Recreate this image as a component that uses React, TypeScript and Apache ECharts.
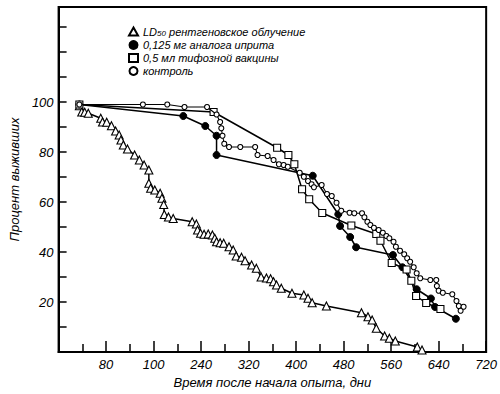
import React, { useEffect, useRef } from "react";
import * as echarts from "echarts";

// ---- data ----
const seriesNames = [
  "LD50 рентгеновское облучение",
  "0,125 мг аналога иприта",
  "0,5 мл тифозной вакцины",
  "контроль",
];

const xrayDays = [35, 39, 44, 50, 71, 74, 81, 89, 96, 102, 105, 109, 116, 128, 136, 144, 152, 152, 155, 162, 171, 174, 177, 178, 185, 193, 225, 232, 234, 239, 245, 252, 259, 263, 266, 272, 278, 287, 294, 299, 308, 314, 325, 333, 341, 350, 357, 362, 367, 375, 393, 413, 420, 427, 451, 510, 521, 528, 535, 549, 557, 567, 604, 612];
const xraySurv = [98.5, 96, 95.9, 95.5, 93.5, 92, 91.9, 90.5, 88.4, 86.8, 84.8, 82.8, 81.2, 78.8, 76.8, 74.8, 72.8, 67.5, 65.5, 64.8, 63.5, 61.5, 59, 55, 54, 53.4, 52.1, 51.2, 48.8, 47.5, 47.1, 47.2, 46.8, 45.5, 44.1, 43.7, 43.5, 42.1, 40.8, 38.4, 37.9, 36.5, 34.8, 33.5, 30, 29.6, 29.3, 28.1, 26.8, 25.5, 23.5, 22.8, 21.5, 19.7, 18.4, 15.7, 14.1, 12.8, 9.5, 6.4, 5.5, 4.4, 2.0, 0.8];

const mustardDays = [35, 210, 247, 266, 266, 428, 471, 474, 491, 501, 563, 579, 603, 627, 634, 669];
const mustardSurv = [99, 94.4, 90.4, 86.5, 78.8, 70.5, 55.1, 50.4, 46, 41.9, 38.8, 33.9, 25.1, 21.4, 18, 13.3];

const vaccineDays = [35, 261, 368, 387, 397, 410, 422, 444, 493, 535, 542, 561, 586, 594, 602, 619, 643];
const vaccineSurv = [99, 96, 81.7, 78.8, 75.1, 65.1, 61.1, 55.6, 50.6, 47.2, 44.5, 35.6, 33, 28.5, 22.4, 19.6, 17.2];

const controlDays = [35, 142, 183, 212, 250, 266, 272, 274, 276, 279, 287, 306, 331, 335, 352, 362, 371, 379, 386, 406, 413, 420, 426, 430, 443, 452, 460, 468, 476, 490, 498, 511, 515, 520, 525, 531, 539, 546, 552, 557, 564, 568, 575, 582, 587, 592, 598, 603, 609, 626, 636, 637, 640, 647, 663, 670, 674, 677, 682];
const controlSurv = [99, 99, 99, 98, 98, 95, 92, 89.5, 86.5, 83.3, 82, 82, 82, 78.8, 78.4, 76.8, 75.1, 74.8, 74.1, 71.7, 70.1, 68.4, 67.1, 65.9, 66.8, 63.2, 62.4, 59.7, 56.5, 55.7, 55.5, 55.5, 53.9, 52.1, 50.8, 49.7, 48.8, 47.7, 46.4, 45.5, 44.1, 42.1, 40.5, 39.1, 37.5, 36.1, 33.9, 31.5, 29.5, 28.8, 28.8, 26.4, 24.5, 23.7, 23.1, 20.4, 18.4, 16.5, 18.1];

// x tick labels as printed in the reference (160 is printed as "100")
const xTickValues = [80, 160, 240, 320, 400, 480, 560, 640, 720];
const xTickLabels = ["80", "100", "240", "320", "400", "480", "560", "640", "720"];
const yTickValues = [20, 40, 60, 80, 100];

const xAxisTitle = "Время после начала опыта, дни";
const yAxisTitle = "Процент выживших";

const FONT = "'Liberation Sans', 'DejaVu Sans', sans-serif";

function pairs(xs: number[], ys: number[]) {
  return xs.map((x, i) => [x, ys[i]]);
}

export default function App() {
  const ref = useRef<HTMLDivElement>(null);
  useEffect(() => {
    if (!ref.current) return;
    const chart = echarts.init(ref.current, undefined, { renderer: "svg" });
    const lineStyle = { color: "#000", width: 1.5 };
    const hollow = { color: "#fff", borderColor: "#000", borderWidth: 1.1 };
    const option: any = {
      animation: false,
      backgroundColor: "#fff",
      grid: {
        left: 43,
        right: 13,
        top: 7,
        bottom: 42,
        show: true,
        borderColor: "#000",
        borderWidth: 2,
        backgroundColor: "transparent",
      },
      legend: {
        orient: "vertical",
        left: 123,
        top: 21,
        itemGap: 2,
        itemWidth: 9,
        itemHeight: 8,
        data: [
          { name: seriesNames[0], icon: "triangle" },
          { name: seriesNames[1], icon: "circle" },
          { name: seriesNames[2], icon: "rect" },
          { name: seriesNames[3], icon: "circle" },
        ],
        textStyle: {
          fontFamily: FONT,
          fontStyle: "italic",
          fontSize: 11,
          color: "#000",
          rich: {
            i: { fontFamily: FONT, fontStyle: "italic", fontSize: 11, color: "#000" },
            s: { fontFamily: FONT, fontStyle: "italic", fontSize: 8, color: "#000", verticalAlign: "bottom", padding: [4, 0, 0, 0] },
          },
        },
        formatter: (name: string) =>
          name === seriesNames[0]
            ? "{i|LD}{s|50}{i| рентгеновское облучение}"
            : name,
      },
      xAxis: {
        type: "value",
        min: 0,
        max: 720,
        interval: 80,
        name: xAxisTitle,
        nameLocation: "middle",
        nameGap: 22,
        nameTextStyle: { fontFamily: FONT, fontStyle: "italic", fontSize: 13, color: "#000" },
        axisLine: { lineStyle: { color: "#000", width: 2 } },
        axisTick: { inside: true, length: 11, lineStyle: { color: "#000", width: 1.5 } },
        minorTick: { show: true, splitNumber: 2, length: 8, lineStyle: { color: "#000", width: 1.5 } },
        splitLine: { show: false },
        axisLabel: {
          margin: 6,
          fontFamily: FONT,
          fontStyle: "italic",
          fontSize: 13,
          color: "#000",
          formatter: (v: number) => {
            const i = xTickValues.indexOf(v);
            return i >= 0 ? xTickLabels[i] : "";
          },
        },
      },
      yAxis: {
        type: "value",
        min: 0,
        max: 138,
        interval: 10,
        name: yAxisTitle,
        nameLocation: "middle",
        nameGap: 26,
        nameTextStyle: { fontFamily: FONT, fontStyle: "italic", fontSize: 13, color: "#000" },
        axisLine: { lineStyle: { color: "#000", width: 2 } },
        axisTick: { inside: true, length: 8, lineStyle: { color: "#000", width: 1.5 } },
        splitLine: { show: false },
        axisLabel: {
          margin: 5,
          fontFamily: FONT,
          fontStyle: "italic",
          fontSize: 13,
          color: "#000",
          formatter: (v: number) => (yTickValues.indexOf(v) >= 0 ? String(v) : ""),
        },
      },
      series: [
        {
          name: seriesNames[0],
          type: "line",
          data: pairs(xrayDays, xraySurv),
          symbol: "triangle",
          symbolSize: 8,
          lineStyle,
          itemStyle: hollow,
          z: 3,
        },
        {
          name: seriesNames[1],
          type: "line",
          data: pairs(mustardDays, mustardSurv),
          symbol: "circle",
          symbolSize: 7,
          lineStyle,
          itemStyle: { color: "#000", borderColor: "#000", borderWidth: 1 },
          z: 4,
        },
        {
          name: seriesNames[2],
          type: "line",
          data: pairs(vaccineDays, vaccineSurv),
          symbol: "rect",
          symbolSize: 7,
          lineStyle,
          itemStyle: hollow,
          z: 5,
        },
        {
          name: seriesNames[3],
          type: "line",
          data: pairs(controlDays, controlSurv),
          symbol: "circle",
          symbolSize: 5,
          lineStyle: { color: "#000", width: 1.1 },
          itemStyle: hollow,
          z: 6,
        },
      ],
    };
    chart.setOption(option);
    return () => chart.dispose();
  }, []);
  return <div ref={ref} style={{ width: 500, height: 394, position: "absolute", left: 0, top: 0 }} />;
}
